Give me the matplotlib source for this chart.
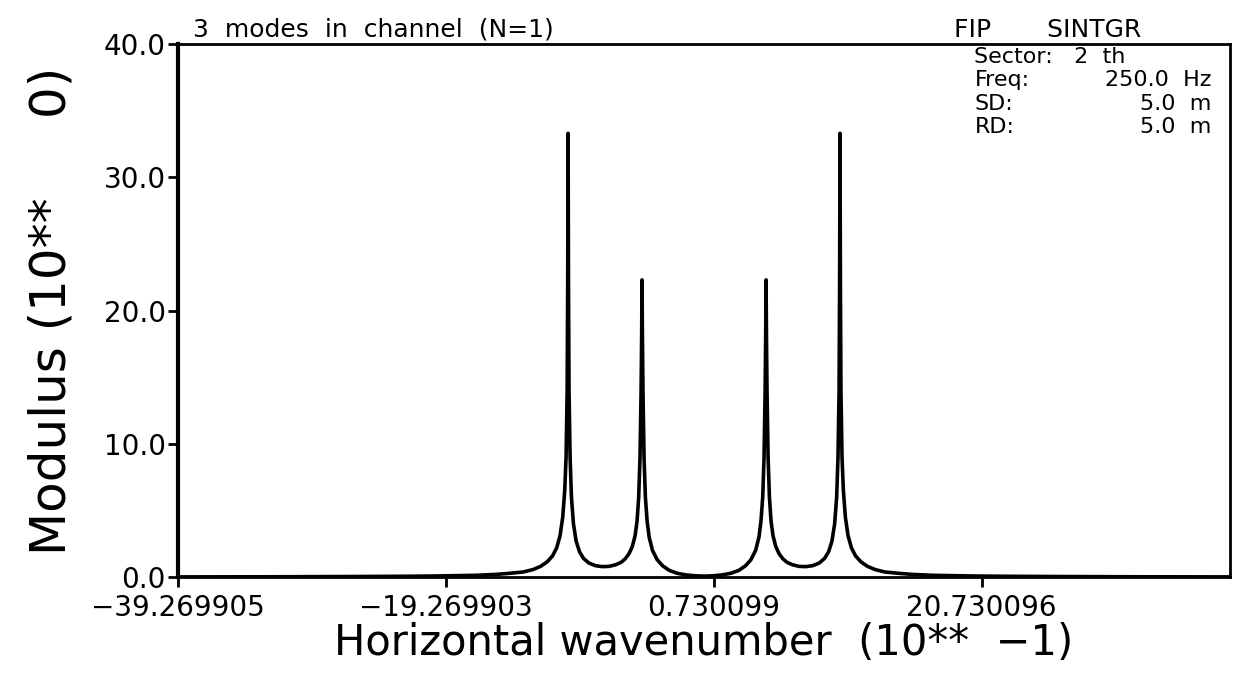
import matplotlib.pyplot as plt

# wavenumber samples (10**-1) and modulus
wavenumber = [-39.27, -32.0, -26.0, -22.0, -20.0, -17.0, -15.5, -14.5, -13.5, -12.8,
              -12.2, -11.7, -11.3, -11.0, -10.75, -10.55, -10.4, -10.3, -10.22, -10.18,
              -10.15, -10.12, -10.08, -10.0, -9.9, -9.75, -9.55, -9.3, -9.0, -8.6,
              -8.1, -7.6, -7.1, -6.6, -6.2, -5.9, -5.6, -5.35, -5.15, -5.0,
              -4.88, -4.78, -4.7, -4.66, -4.63, -4.6, -4.56, -4.48, -4.38, -4.25,
              -4.1, -3.85, -3.5, -3.1, -2.6, -2.0, -1.3, -0.6, 0.0,
              0.6, 1.3, 2.0, 2.6, 3.1, 3.5, 3.85, 4.1, 4.25, 4.38,
              4.48, 4.56, 4.6, 4.63, 4.66, 4.7, 4.78, 4.88, 5.0, 5.15,
              5.35, 5.6, 5.9, 6.2, 6.6, 7.1, 7.6, 8.1, 8.6, 9.0,
              9.3, 9.55, 9.75, 9.9, 10.0, 10.08, 10.12, 10.15, 10.18, 10.22,
              10.3, 10.4, 10.55, 10.75, 11.0, 11.3, 11.7, 12.2, 12.8, 13.5,
              14.5, 15.5, 17.0, 20.0, 22.0, 26.0, 32.0, 39.27]
modulus = [0.01, 0.02, 0.04, 0.06, 0.08, 0.13, 0.2, 0.28, 0.38, 0.55,
           0.8, 1.15, 1.6, 2.2, 3.1, 4.5, 6.5, 9.0, 14.0, 22.0,
           33.3, 22.0, 14.0, 9.0, 6.0, 4.0, 2.7, 1.9, 1.4, 1.05,
           0.85, 0.78, 0.8, 0.92, 1.1, 1.35, 1.75, 2.3, 3.1, 4.2,
           6.0, 9.0, 14.0, 18.0, 22.3, 18.0, 14.0, 9.0, 6.0, 4.2,
           3.0, 2.0, 1.3, 0.85, 0.5, 0.28, 0.15, 0.09, 0.07,
           0.09, 0.15, 0.28, 0.5, 0.85, 1.3, 2.0, 3.0, 4.2, 6.0,
           9.0, 14.0, 18.0, 22.3, 18.0, 14.0, 9.0, 6.0, 4.2, 3.1,
           2.3, 1.75, 1.35, 1.1, 0.92, 0.8, 0.78, 0.85, 1.05, 1.4,
           1.9, 2.7, 4.0, 6.0, 9.0, 14.0, 22.0, 33.3, 22.0, 14.0,
           9.0, 6.5, 4.5, 3.1, 2.2, 1.6, 1.15, 0.8, 0.55, 0.38,
           0.28, 0.2, 0.13, 0.08, 0.06, 0.04, 0.02, 0.01]

xtick_vals = [-39.269905, -19.269903, 0.730099, 20.730096]
xtick_text = ['\u221239.269905', '\u221219.269903', '0.730099', '20.730096']
ytick_vals = [0.0, 10.0, 20.0, 30.0, 40.0]
ytick_text = ['0.0', '10.0', '20.0', '30.0', '40.0']

sector_line = 'Sector:   2  th'
info_keys = ['Freq:', 'SD:', 'RD:']
info_vals = ['250.0  Hz', '5.0  m', '5.0  m']

plt.rcParams['font.family'] = ['DejaVu Sans']

fig = plt.figure(figsize=(12.38, 6.73), dpi=100)
ax = fig.add_axes([0.1438, 0.1426, 0.8498, 0.792])

ax.plot(wavenumber, modulus, color='black', lw=2.6, solid_joinstyle='round')

ax.set_xlim(-39.269908, 39.269908)
ax.set_ylim(0, 40)

ax.set_xticks(xtick_vals)
ax.set_xticklabels(xtick_text, fontsize=20)
ax.set_yticks(ytick_vals)
ax.set_yticklabels(ytick_text, fontsize=20)
ax.tick_params(axis='both', direction='out', length=7, width=2, color='black')
ax.tick_params(axis='x', pad=5)
ax.tick_params(axis='y', pad=2)

for side in ['top', 'right', 'bottom']:
    ax.spines[side].set_linewidth(2)
ax.spines['left'].set_linewidth(3)

ax.set_xlabel('Horizontal wavenumber  (10**  \u22121)', fontsize=30, labelpad=0)
ax.set_ylabel('Modulus (10**     0)', fontsize=36, labelpad=20)

ax.text(0.014, 1.004, '3  modes  in  channel  (N=1)', transform=ax.transAxes,
        fontsize=18, ha='left', va='bottom')
ax.text(0.738, 1.004, 'FIP       SINTGR', transform=ax.transAxes,
        fontsize=18, ha='left', va='bottom')

# parameter block in the upper right corner
ax.text(0.757, 0.995, sector_line, transform=ax.transAxes, fontsize=16,
        ha='left', va='top')
for i, (k, v) in enumerate(zip(info_keys, info_vals)):
    y = 0.995 - (i + 1) * 0.044
    ax.text(0.757, y, k, transform=ax.transAxes, fontsize=16, ha='left', va='top')
    ax.text(0.982, y, v, transform=ax.transAxes, fontsize=16, ha='right', va='top')

fig.savefig('out.png', dpi=100, facecolor='white')
